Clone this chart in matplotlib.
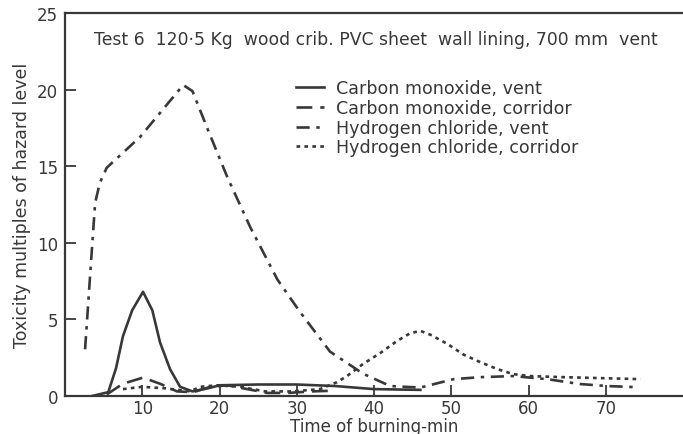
import matplotlib
matplotlib.use("Agg")
import matplotlib.pyplot as plt

# Time (min) and toxicity (multiples of hazard level) for each gas / location
co_vent_t = [3.5, 5.6, 6.6, 7.5, 8.7, 10.1, 11.3, 12.3, 13.6, 14.9, 16.5, 18.5, 20, 25, 30, 35, 40, 46]
co_vent_y = [0.0, 0.25, 1.8, 3.9, 5.6, 6.8, 5.6, 3.5, 1.75, 0.6, 0.3, 0.5, 0.7, 0.75, 0.75, 0.65, 0.45, 0.4]

co_corr_t = [5.4, 7.5, 10.1, 12.3, 14.5, 16.6, 18.8, 21, 23.6, 26.2, 28.8, 32, 35]
co_corr_y = [0.1, 0.8, 1.2, 0.8, 0.3, 0.25, 0.6, 0.7, 0.45, 0.2, 0.2, 0.3, 0.35]

hcl_vent_t = [2.6, 3.1, 3.5, 3.9, 4.5, 5.4, 9.7, 15.3, 16.5, 18.4, 21, 24, 27.5, 30.4,
              34.3, 38.6, 42.1, 46, 50.3, 53.8, 58, 62.4, 66.7, 70.2, 73.8]
hcl_vent_y = [3.05, 6.75, 9.7, 12.6, 13.9, 14.9, 16.9, 20.3, 19.9, 17.5, 14.3, 11.0, 7.6, 5.5,
              2.9, 1.45, 0.65, 0.55, 1.1, 1.23, 1.3, 1.1, 0.78, 0.65, 0.58]

hcl_corr_t = [7.5, 10, 13, 16.2, 17.5, 19.7, 22.7, 25.9, 29.5, 33, 35.2, 36.5, 38.6, 40.8,
              43, 44.7, 46, 47.3, 49.5, 51.6, 53.8, 56, 58, 60.2, 64.5, 74.5]
hcl_corr_y = [0.45, 0.6, 0.5, 0.3, 0.6, 0.7, 0.6, 0.3, 0.3, 0.45, 0.9, 1.3, 2.1, 2.8,
              3.6, 4.1, 4.25, 4.0, 3.4, 2.7, 2.2, 1.75, 1.43, 1.3, 1.23, 1.1]

x_ticks = [10, 20, 30, 40, 50, 60, 70]
y_ticks = [0, 5, 10, 15, 20, 25]

ink = "#383838"
plt.rcParams["font.family"] = ["DejaVu Sans"]

fig = plt.figure(figsize=(6.83, 4.35), dpi=100)
ax = fig.add_axes([65 / 683, 38 / 435, 1 - 65 / 683, (397 - 14) / 435])

lw = 1.9
ax.plot(co_vent_t, co_vent_y, color=ink, lw=lw, ls="-", label="Carbon monoxide, vent")
ax.plot(co_corr_t, co_corr_y, color=ink, lw=lw, ls=(0, (6, 3)), label="Carbon monoxide, corridor")
ax.plot(hcl_vent_t, hcl_vent_y, color=ink, lw=lw, ls=(0, (5, 2.5, 1.3, 2.5)), label="Hydrogen chloride, vent")
ax.plot(hcl_corr_t, hcl_corr_y, color=ink, lw=lw, ls=(0, (1.4, 1.6)), label="Hydrogen chloride, corridor")

ax.set_xlim(0, 80)
ax.set_ylim(0, 25)
ax.set_xticks(x_ticks)
ax.set_yticks(y_ticks)
ax.tick_params(direction="in", length=8, width=1.3, color=ink, labelcolor=ink,
               labelsize=12, pad=5)
ax.tick_params(axis="x", pad=2)
for side in ("left", "bottom", "top"):
    ax.spines[side].set_linewidth(1.6)
    ax.spines[side].set_color(ink)
ax.spines["right"].set_visible(False)

ax.set_xlabel("Time of burning-min", fontsize=12, color=ink, labelpad=0)
ax.set_ylabel("Toxicity multiples of hazard level", fontsize=12.5, color=ink, labelpad=4)

ax.text(0.503, 0.932, "Test 6  120\u00b75 Kg  wood crib. PVC sheet  wall lining, 700 mm  vent",
        transform=ax.transAxes, ha="center", va="center", fontsize=12.4, color=ink)

leg = ax.legend(loc="upper left", bbox_to_anchor=(0.36, 0.85), frameon=False,
                fontsize=12.6, handlelength=1.6, handletextpad=0.7, labelspacing=0.1,
                borderpad=0)
for t in leg.get_texts():
    t.set_color(ink)

fig.savefig("out.png", dpi=100, facecolor="white")
